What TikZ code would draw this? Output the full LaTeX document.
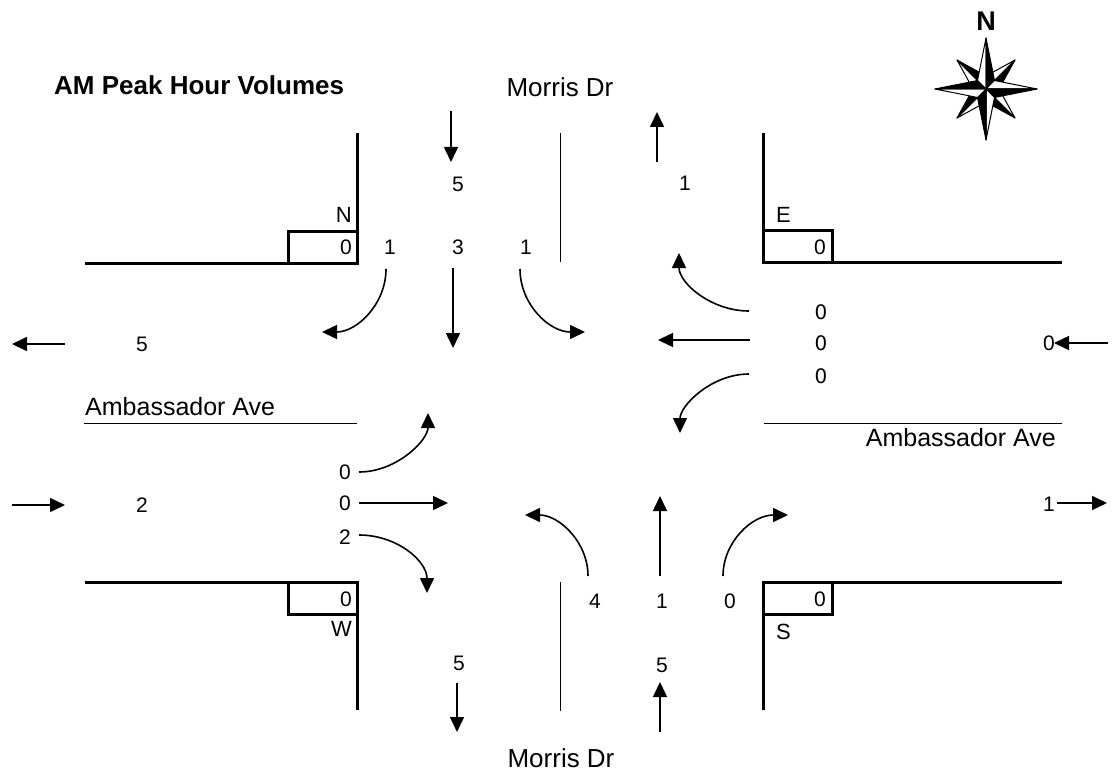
\documentclass[tikz,border=0pt]{standalone}
\usepackage{fontspec}
\setmainfont{Liberation Sans}
\newfontfamily\dvsans{DejaVu Sans}
\usetikzlibrary{arrows.meta}
\begin{document}
\begin{tikzpicture}[x=1pt,y=-1pt,
  curb/.style={line width=3pt, line join=miter},
  lane/.style={line width=1pt},
  mv/.style={line width=1.6pt, -{Triangle[length=15pt,width=14pt]}},
  num/.style={inner sep=0pt, font=\fontsize{21}{25}\selectfont},
  numdv/.style={inner sep=0pt, font=\dvsans\fontsize{20}{24}\selectfont},
  lbl/.style={inner sep=0pt, font=\fontsize{22}{26}\selectfont},
  road/.style={inner sep=0pt, font=\fontsize{25}{30}\selectfont},
  mroad/.style={inner sep=0pt, font=\fontsize{26}{30}\selectfont},
  ttl/.style={inner sep=0pt, font=\bfseries\fontsize{26}{30}\selectfont},
  rose/.style={line width=1pt, line join=round}]
\fill[white] (0,0) rectangle (1116,773);
\useasboundingbox (0,0) rectangle (1116,773);

% curbs
\draw[curb] (85,263) -- (357,263) -- (357,133);
\draw[curb] (288,231) rectangle (357,263);
\draw[curb] (1062,262) -- (763,262) -- (763,133);
\draw[curb] (763,230) rectangle (832,262);
\draw[curb] (85,582) -- (357,582) -- (357,710);
\draw[curb] (288,582) rectangle (357,614);
\draw[curb] (1062,582) -- (763,582) -- (763,710);
\draw[curb] (763,582) rectangle (832,614);

% centre lines
\draw[lane] (560,133) -- (560,262);
\draw[lane] (560,582) -- (560,711);
\draw[lane] (84,423) -- (357,423);
\draw[lane] (764,423) -- (1062,423);

% texts
\node[ttl, anchor=west] (title) at (54,85) {AM Peak Hour Volumes};
\node[mroad] (mdtop) at (560,87) {Morris Dr};
\node[mroad] (mdbot) at (561,758) {Morris Dr};
\node[road, anchor=west] (aaleft) at (85,407) {Ambassador Ave};
\node[road, anchor=east] (aaright) at (1056,438) {Ambassador Ave};

\node[lbl, anchor=east] (lN) at (352,215) {N};
\node[lbl, anchor=west] (lE) at (776,215) {E};
\node[lbl, anchor=east] (lW) at (352,629) {W};
\node[lbl, anchor=west] (lS) at (776,632) {S};

\node[num, anchor=east] (bN) at (352,247) {0};
\node[num, anchor=east] (bE) at (826,247) {0};
\node[num, anchor=east] (bW) at (352,599) {0};
\node[num, anchor=east] (bS) at (826,599) {0};

% north leg
\node[num] (nin) at (458,184) {5};
\node[num] (nout) at (685,183) {1};
\node[num] (nl) at (390,247) {1};
\node[num] (nt) at (458,247) {3};
\node[num] (nr) at (526,247) {1};
% east leg
\node[numdv] (er) at (821,312) {0};
\node[numdv] (et) at (821,343) {0};
\node[numdv] (el) at (821,376) {0};
\node[num] (ein) at (1049,343) {0};
\node[num] (eout) at (1049,504) {1};
% west leg
\node[num] (wout) at (142,344) {5};
\node[num] (win) at (142,505) {2};
\node[num] (wl) at (345,472) {0};
\node[num] (wt) at (345,503) {0};
\node[num] (wr) at (345,537) {2};
% south leg
\node[num] (sl) at (595,601) {4};
\node[num] (st) at (662,601) {1};
\node[num] (sr) at (730,601) {0};
\node[num] (sout) at (459,663) {5};
\node[num] (sin) at (662,665) {5};

% movement arrows - north approach
\draw[mv] (451,111) -- (451,162);
\draw[mv] (657,162) -- (657,112);
\draw[mv] (386,269) .. controls (386,304) and (357,332) .. (322,332);
\draw[mv] (453,268) -- (453,348);
\draw[mv] (520,269) .. controls (520,304) and (549,332) .. (585,332);
% east approach
\draw[mv] (749,311) .. controls (711,311) and (679,283) .. (679,253);
\draw[mv] (750,340) -- (658,340);
\draw[mv] (749,374) .. controls (711,374) and (680,406) .. (680,433);
\draw[mv] (1108,343) -- (1054,343);
\draw[mv] (1057,503) -- (1107,503);
% west approach
\draw[mv] (359,472) .. controls (397,472) and (428,440) .. (428,413);
\draw[mv] (359,503) -- (448,503);
\draw[mv] (359,535) .. controls (397,535) and (427,561) .. (427,593);
\draw[mv] (65,344) -- (12,344);
\draw[mv] (12,505) -- (65,505);
% south approach
\draw[mv] (588,576) .. controls (588,542) and (559,515) .. (525,515);
\draw[mv] (660,576) -- (660,496);
\draw[mv] (723,576) .. controls (723,542) and (752,515) .. (788,515);
\draw[mv] (457,683) -- (457,732);
\draw[mv] (660,732) -- (660,682);

% compass rose
\node[inner sep=0pt, font=\bfseries\fontsize{27}{32}\selectfont] (compassN) at (986,21) {N};
\begin{scope}[shift={(986,89)}, yscale=-1]
  \foreach \a in {45,135,225,315} {
    \filldraw[rose, fill=white] (0,0) -- (\a:41) -- (\a+45:13) -- cycle;
    \filldraw[rose, fill=black] (0,0) -- (\a-45:13) -- (\a:41) -- cycle;
  }
  \foreach \a in {90,0,270,180} {
    \filldraw[rose, fill=white] (0,0) -- (\a:51) -- (\a+45:12) -- cycle;
    \filldraw[rose, fill=black] (0,0) -- (\a-45:12) -- (\a:51) -- cycle;
  }
\end{scope}
\end{tikzpicture}
\end{document}
